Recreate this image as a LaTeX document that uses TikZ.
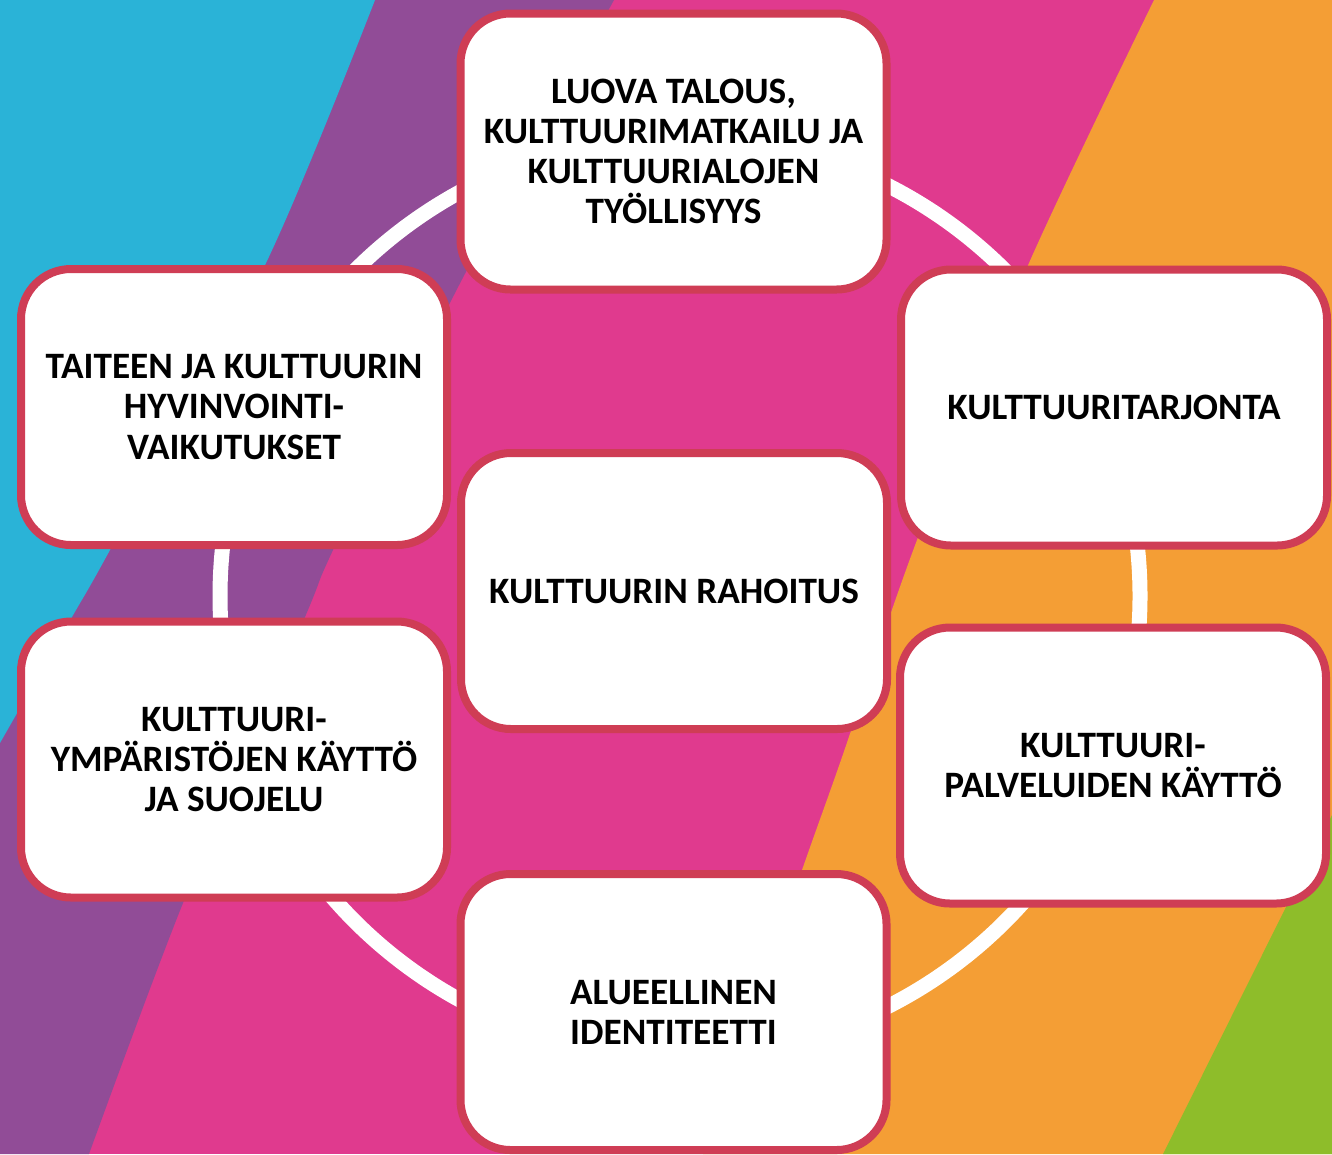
\documentclass[tikz,border=0pt]{standalone}
\usepackage{fontspec}
\setmainfont{Carlito}
\usetikzlibrary{shadows}
\definecolor{cyanbg}{HTML}{2AB3D7}
\definecolor{purplebg}{HTML}{914C97}
\definecolor{magentabg}{HTML}{E03A8E}
\definecolor{orangebg}{HTML}{F49E35}
\definecolor{greenbg}{HTML}{8EBD2A}
\definecolor{boxred}{HTML}{CF3D55}
\tikzset{
  theme/.style={draw=boxred, line width=0.08cm, fill=white, rounded corners=0.5cm,
    minimum width=4.26cm, minimum height=2.76cm, align=center, text=black,
    font=\fontsize{10.6}{11.4}\selectfont\bfseries,
    drop shadow={shadow xshift=0.02cm, shadow yshift=-0.03cm, opacity=0.3}},
  ring/.style={white, line width=0.15cm}
}
\begin{document}
\begin{tikzpicture}
  \useasboundingbox (0,0) rectangle (13.32,-11.54);
  % background stripes
  \fill[magentabg] (0,0) rectangle (13.32,-11.54);
  \fill[purplebg] (0,0) -- plot[smooth] coordinates {(6.14,0) (4.55,-2.93) (3.33,-5.50) (3.05,-6.17) (1.83,-9.03) (0.89,-11.54)} -- (0,-11.54) -- cycle;
  \fill[cyanbg] (0,0) -- plot[smooth] coordinates {(3.75,0) (2.66,-2.63) (1.10,-5.50) (0.72,-6.17) (0,-7.43)} -- cycle;
  \fill[orangebg] (13.32,0) -- plot[smooth] coordinates {(11.54,0) (10.29,-2.63) (9.17,-5.40) (8.41,-7.60) (8.02,-8.70) (7.03,-11.54)} -- (13.32,-11.54) -- cycle;
  \fill[greenbg] (13.32,-8.15) -- plot[smooth] coordinates {(13.32,-8.15) (12.83,-9.13) (11.63,-11.54)} -- (13.32,-11.54) -- cycle;
  % ring
  \draw[ring] (6.80,-5.96) circle (4.60);
  % boxes
  \node[theme] (talous) at (6.735,-1.515) {LUOVA TALOUS,\\KULTTUURIMATKAILU JA\\KULTTUURIALOJEN\\TYÖLLISYYS};
  \node[theme] (hyvinvointi) at (2.34,-4.07) {TAITEEN JA KULTTUURIN\\HYVINVOINTI-\\VAIKUTUKSET};
  \node[theme] (tarjonta) at (11.14,-4.075) {KULTTUURITARJONTA};
  \node[theme] (rahoitus) at (6.74,-5.91) {KULTTUURIN RAHOITUS};
  \node[theme] (ymparistot) at (2.34,-7.595) {KULTTUURI-\\YMPÄRISTÖJEN KÄYTTÖ\\JA SUOJELU};
  \node[theme] (palvelut) at (11.13,-7.655) {KULTTUURI-\\PALVELUIDEN KÄYTTÖ};
  \node[theme] (identiteetti) at (6.735,-10.12) {ALUEELLINEN\\IDENTITEETTI};
\end{tikzpicture}
\end{document}
